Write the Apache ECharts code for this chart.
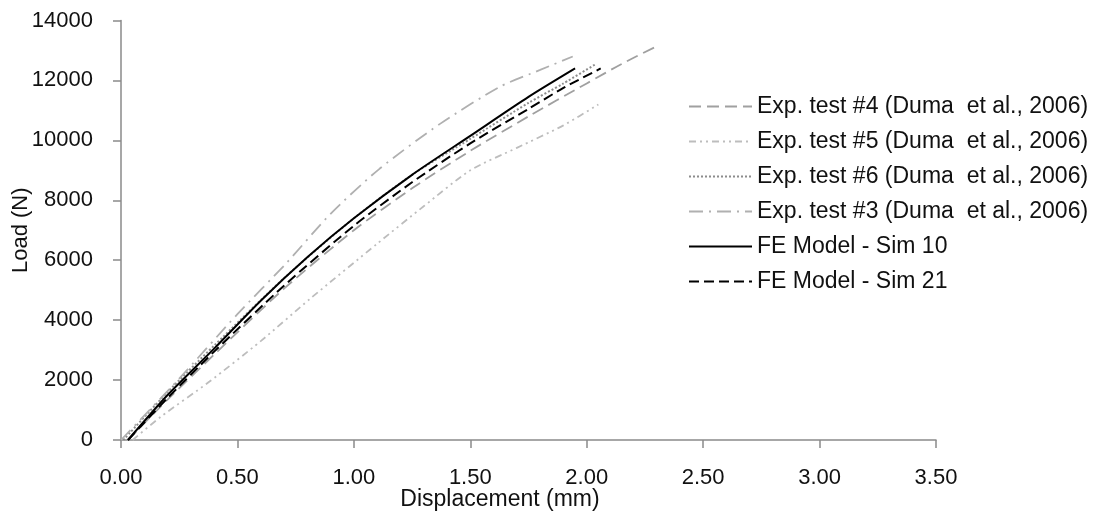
<!DOCTYPE html>
<html>
<head>
<meta charset="utf-8">
<script src="https://cdn.jsdelivr.net/npm/echarts@6/dist/echarts.min.js"></script>
<style>
html,body{margin:0;padding:0;background:#fff;}
#chart{width:1099px;height:516px;}
</style>
</head>
<body>
<div id="chart"></div>
<script>
// Tick labels
const xTicks = ["0.00","0.50","1.00","1.50","2.00","2.50","3.00","3.50"];
const yTicks = [0,2000,4000,6000,8000,10000,12000,14000];

// Series names
const seriesNames = [
  "Exp. test #4 (Duma  et al., 2006)",
  "Exp. test #5 (Duma  et al., 2006)",
  "Exp. test #6 (Duma  et al., 2006)",
  "Exp. test #3 (Duma  et al., 2006)",
  "FE Model - Sim 10",
  "FE Model - Sim 21"
];

// Displacement (mm) / Load (N)
const exp4X = [0.03, 0.2, 0.4, 0.7, 1.0, 1.25, 1.5, 1.75, 2.0, 2.15, 2.29];
const exp4Y = [0, 1350, 2850, 5050, 7000, 8400, 9650, 10800, 11900, 12550, 13100];

const exp5X = [0.05, 0.17, 0.38, 0.6, 0.81, 1.1, 1.3, 1.5, 1.7, 1.9, 2.05];
const exp5Y = [0, 770, 1950, 3300, 4700, 6550, 7800, 9000, 9750, 10500, 11200];

const exp6X = [0.01, 0.2, 0.4, 0.7, 1.0, 1.25, 1.5, 1.75, 1.9, 2.04];
const exp6Y = [0, 1600, 3150, 5400, 7400, 8850, 10050, 11250, 11900, 12550];

const exp3X = [0.0, 0.25, 0.5, 0.71, 0.9, 1.11, 1.37, 1.63, 1.8, 1.94];
const exp3Y = [0, 2050, 4200, 5900, 7550, 9050, 10550, 11800, 12350, 12800];

const sim10X = [0.03, 0.2, 0.4, 0.6, 0.8, 1.0, 1.25, 1.5, 1.75, 1.95];
const sim10Y = [0, 1500, 3050, 4650, 6100, 7400, 8850, 10150, 11450, 12400];

const sim21X = [0.03, 0.2, 0.4, 0.7, 1.0, 1.25, 1.5, 1.75, 1.9, 2.06];
const sim21Y = [0, 1400, 2950, 5150, 7150, 8600, 9900, 11050, 11750, 12400];

function pairs(xs, ys){ return xs.map((x,i)=>[x, ys[i]]); }

const FONT = "Liberation Sans";
const chart = echarts.init(document.getElementById('chart'), null, {renderer:'canvas'});

function lineSeries(name, xs, ys, color, width, type){
  return {
    name: name, type: 'line', data: pairs(xs, ys),
    symbol: 'none', smooth: 0.25,
    lineStyle: {color: color, width: width, type: type},
    itemStyle: {color: color},
    emphasis: {disabled: true},
    animation: false
  };
}

chart.setOption({
  animation: false,
  backgroundColor: '#ffffff',
  grid: {left: 121, right: 163, top: 20.5, bottom: 76, containLabel: false, outerBoundsMode: 'none'},
  legend: {
    orient: 'vertical',
    left: 683, top: 90,
    itemWidth: 63, itemHeight: 14, itemGap: 12,
    itemStyle: {opacity: 0},
    textStyle: {fontFamily: FONT, fontSize: 23, color: '#111'},
    data: seriesNames
  },
  xAxis: {
    type: 'value', min: 0, max: 3.5, interval: 0.5,
    name: 'Displacement (mm)', nameLocation: 'middle', nameGap: 48,
    nameMoveOverlap: false,
    nameTextStyle: {fontFamily: FONT, fontSize: 23, color: '#111', padding: [0, 57, 0, 0]},
    axisLine: {show: true, lineStyle: {color: '#8a8a8a', width: 1.5}},
    axisTick: {show: true, length: 8, lineStyle: {color: '#8a8a8a', width: 1.5}},
    splitLine: {show: false},
    axisLabel: {fontFamily: FONT, fontSize: 22, color: '#111', margin: 27,
      formatter: function(v){ const i = Math.round(v/0.5); return xTicks[i] !== undefined ? xTicks[i] : ''; }}
  },
  yAxis: {
    type: 'value', min: 0, max: 14000, interval: 2000,
    name: 'Load (N)', nameLocation: 'middle', nameGap: 89,
    nameMoveOverlap: false,
    nameTextStyle: {fontFamily: FONT, fontSize: 22, color: '#111'},
    axisLine: {show: true, lineStyle: {color: '#8a8a8a', width: 1.5}},
    axisTick: {show: true, length: 8, lineStyle: {color: '#8a8a8a', width: 1.5}},
    splitLine: {show: false},
    axisLabel: {fontFamily: FONT, fontSize: 22, color: '#111', margin: 28,
      formatter: function(v){ return yTicks.indexOf(v) >= 0 ? String(v) : ''; }}
  },
  series: [
    lineSeries(seriesNames[0], exp4X, exp4Y, '#a0a0a0', 1.8, [12, 6]),
    lineSeries(seriesNames[1], exp5X, exp5Y, '#bdbdbd', 1.8, [7, 4, 2, 4, 2, 4]),
    lineSeries(seriesNames[2], exp6X, exp6Y, '#8c8c8c', 2, [2, 2]),
    lineSeries(seriesNames[3], exp3X, exp3Y, '#b0b0b0', 1.8, [14, 6, 2, 6]),
    lineSeries(seriesNames[4], sim10X, sim10Y, '#000000', 2, 'solid'),
    lineSeries(seriesNames[5], sim21X, sim21Y, '#000000', 2, [10, 5])
  ]
});
</script>
</body>
</html>
